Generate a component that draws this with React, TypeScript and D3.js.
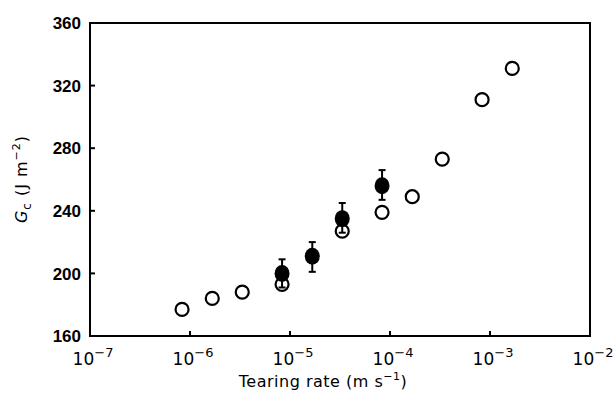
import React from "react";
import * as d3 from "d3";

const openRate = [8.33e-7, 1.67e-6, 3.33e-6, 8.33e-6, 3.33e-5, 8.33e-5, 1.67e-4, 3.33e-4, 8.33e-4, 1.67e-3];
const openGc = [177, 184, 188, 193, 227, 239, 249, 273, 311, 331];

const filledRate = [8.33e-6, 1.67e-5, 3.33e-5, 8.33e-5];
const filledGc = [200, 211, 235, 256];
const filledErrHi = [209, 220, 245, 266];
const filledErrLo = [191, 201, 226, 247];

const xTickExps = [-7, -6, -5, -4, -3, -2];
const yTicks = [160, 200, 240, 280, 320, 360];

const W = 615;
const H = 397;
const M = { left: 90, right: 590, top: 23, bottom: 336 };

export default function App() {
  const x = d3.scaleLog().domain([1e-7, 1e-2]).range([M.left, M.right]);
  const y = d3.scaleLinear().domain([160, 360]).range([M.bottom, M.top]);
  const font = "'Liberation Sans', Arial, sans-serif";
  const light = "'DejaVu Sans', 'Liberation Sans', sans-serif";

  return (
    <div style={{ position: "absolute", left: 0, top: 0 }}>
      <svg width={W} height={H} style={{ display: "block", background: "#fff" }}>
        <rect
          x={M.left}
          y={M.top}
          width={M.right - M.left}
          height={M.bottom - M.top}
          fill="none"
          stroke="#000"
          strokeWidth={2}
        />
        {yTicks.map((t) => (
          <g key={"y" + t}>
            {t !== 160 && t !== 360 && (
              <line x1={M.left} x2={M.left + 5} y1={y(t)} y2={y(t)} stroke="#000" strokeWidth={2} />
            )}
            <text
              x={M.left - 9}
              y={y(t)}
              dy="0.36em"
              textAnchor="end"
              fontFamily={font}
              fontWeight="bold"
              fontSize={17}
              fill="#000"
            >
              {t}
            </text>
          </g>
        ))}
        {xTickExps.map((e) => {
          const xv = x(Math.pow(10, e));
          return (
            <g key={"x" + e}>
              {e !== -7 && e !== -2 && (
                <line x1={xv} x2={xv} y1={M.bottom} y2={M.bottom - 5} stroke="#000" strokeWidth={2} />
              )}
              <text
                x={xv + 3}
                y={M.bottom + 29}
                textAnchor="middle"
                fontFamily={light}
                fontSize={17}
                fill="#000"
              >
                10
                <tspan dy={-8} fontSize={13}>
                  {"\u2212" + Math.abs(e)}
                </tspan>
              </text>
            </g>
          );
        })}
        <text
          x={323}
          y={387}
          textAnchor="middle"
          fontFamily={light}
          fontSize={16}
          letterSpacing={0.5}
          fill="#000"
        >
          Tearing rate (m s
          <tspan dy={-7} fontSize={11}>
            −1
          </tspan>
          <tspan dy={7}>)</tspan>
        </text>
        <text
          transform={`translate(${27},${179}) rotate(-90)`}
          textAnchor="middle"
          fontFamily={light}
          fontSize={16}
          letterSpacing={1}
          fill="#000"
        >
          <tspan fontStyle="italic">G</tspan>
          <tspan dy={4} fontSize={12}>c</tspan>
          <tspan dy={-4}> (J m</tspan>
          <tspan dy={-7} fontSize={11}>−2</tspan>
          <tspan dy={7}>)</tspan>
        </text>
        {filledRate.map((r, i) => {
          const cx = x(r);
          return (
            <g key={"e" + i} stroke="#000" strokeWidth={2}>
              <line x1={cx} x2={cx} y1={y(filledErrHi[i])} y2={y(filledErrLo[i])} />
              <line x1={cx - 3.5} x2={cx + 3.5} y1={y(filledErrHi[i])} y2={y(filledErrHi[i])} />
              <line x1={cx - 3.5} x2={cx + 3.5} y1={y(filledErrLo[i])} y2={y(filledErrLo[i])} />
            </g>
          );
        })}
        {filledRate.map((r, i) => (
          <ellipse key={"f" + i} cx={x(r)} cy={y(filledGc[i])} rx={7.5} ry={8.5} fill="#000" />
        ))}
        {openRate.map((r, i) => (
          <circle
            key={"o" + i}
            cx={x(r)}
            cy={y(openGc[i])}
            r={6.5}
            fill="none"
            stroke="#000"
            strokeWidth={2.2}
          />
        ))}
      </svg>
    </div>
  );
}
